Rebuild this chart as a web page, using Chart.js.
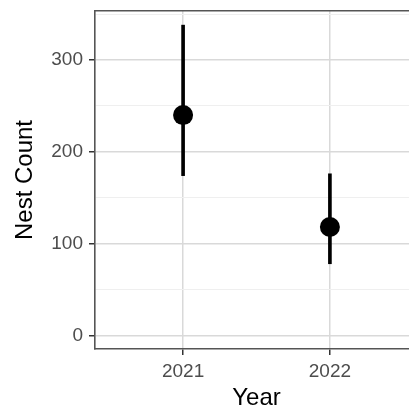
<!DOCTYPE html>
<html>
<head>
<meta charset="utf-8">
<script src="https://cdn.jsdelivr.net/npm/chart.js@4"></script>
<style>
html,body{margin:0;padding:0;background:#fff;overflow:hidden;}
#wrap{width:420px;height:413px;}
</style>
</head>
<body>
<div id="wrap"><canvas id="c" width="420" height="413"></canvas></div>
<script>
const years = ['2021', '2022'];
const xPositions = [1, 2];
const nestCount = [240, 118];
const lowerBound = [174, 78];
const upperBound = [338, 176];
const yTickValues = [0, 50, 100, 150, 200, 250, 300, 350];
const yLabelled = [0, 100, 200, 300];

Chart.defaults.font.family = "'Liberation Sans', Arial, sans-serif";

const barData = xPositions.map((x, i) => ({x: x, y: [lowerBound[i], upperBound[i]]}));
const pointData = xPositions.map((x, i) => ({x: x, y: nestCount[i]}));

new Chart(document.getElementById('c'), {
  type: 'bar',
  data: {
    datasets: [
      {
        type: 'line',
        data: pointData,
        showLine: false,
        pointRadius: 10,
        pointBackgroundColor: '#000',
        pointBorderWidth: 0,
        order: 0
      },
      {
        type: 'bar',
        data: barData,
        backgroundColor: '#000',
        borderWidth: 0,
        barThickness: 3,
        grouped: false,
        order: 1
      }
    ]
  },
  options: {
    responsive: false,
    animation: false,
    layout: {autoPadding: false, padding: {top: 11, right: 2, left: 0, bottom: 0}},
    plugins: {legend: {display: false}, tooltip: {enabled: false}},
    scales: {
      x: {
        type: 'linear',
        min: 0.4,
        max: 2.6,
        offset: false,
        afterBuildTicks: s => { s.ticks = xPositions.map(v => ({value: v})); },
        afterFit: s => { s.height = 64; s.paddingLeft = 0; s.paddingRight = 0; },
        ticks: {
          callback: (v) => { const i = xPositions.indexOf(v); return i >= 0 ? years[i] : ''; },
          color: '#4d4d4d',
          font: {size: 19},
          padding: 5,
          autoSkip: false,
          maxRotation: 0
        },
        grid: {offset: false, color: '#d9d9d9', lineWidth: 1.5, tickColor: '#333', tickLength: 6},
        border: {color: '#555', width: 1.6},
        title: {display: true, text: 'Year', color: '#000', font: {size: 24}, padding: {top: 0, bottom: 0}}
      },
      xTop: {
        type: 'linear',
        position: 'top',
        min: 0,
        max: 1,
        offset: false,
        afterFit: s => { s.height = 0; s.paddingLeft = 0; s.paddingRight = 0; },
        ticks: {display: false},
        grid: {offset: false, drawOnChartArea: false, drawTicks: false},
        border: {color: '#555', width: 1.6}
      },
      y: {
        type: 'linear',
        min: -14.9,
        max: 353.4,
        afterBuildTicks: s => { s.ticks = yTickValues.map(v => ({value: v})); },
        afterFit: s => { s.width = 95; s.paddingTop = 0; s.paddingBottom = 0; },
        ticks: {
          callback: (v) => yLabelled.includes(v) ? String(v) : '',
          color: '#4d4d4d',
          font: {size: 19},
          padding: 6,
          autoSkip: false
        },
        grid: {
          color: c => (c.tick && c.tick.value % 100 === 0) ? '#d9d9d9' : '#efefef',
          lineWidth: c => (c.tick && c.tick.value % 100 === 0) ? 1.5 : 1,
          tickColor: c => (c.tick && c.tick.value % 100 === 0) ? '#333' : 'rgba(0,0,0,0)',
          tickLength: 6
        },
        border: {color: '#555', width: 1.6},
        title: {display: true, text: 'Nest Count', color: '#000', font: {size: 24}, padding: {top: 11, bottom: 0}}
      }
    }
  }
});
</script>
</body>
</html>
